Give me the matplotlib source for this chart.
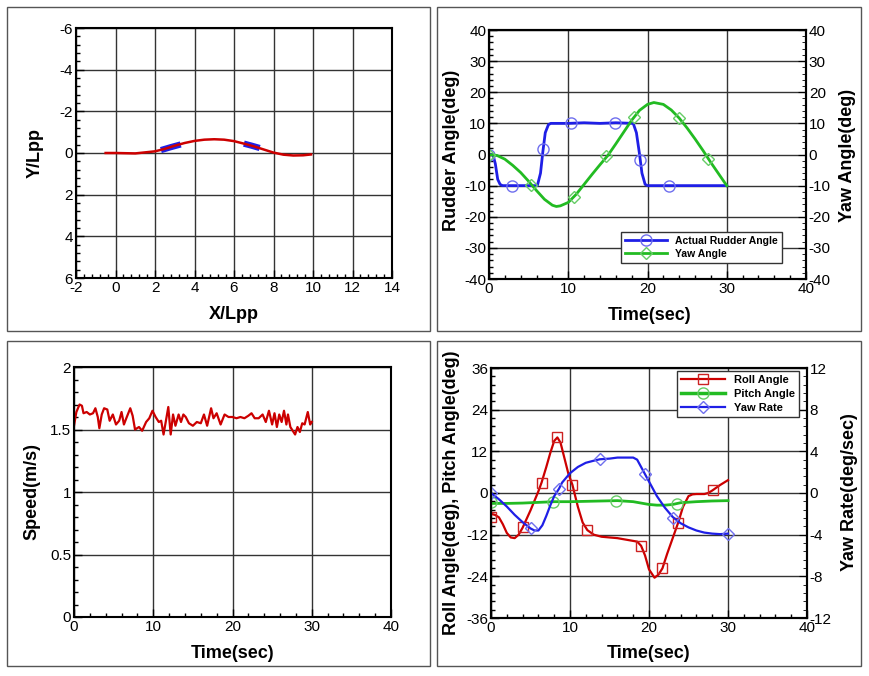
import matplotlib
matplotlib.use("Agg")
import matplotlib.pyplot as plt
from matplotlib.lines import Line2D
from matplotlib.patches import Rectangle
from matplotlib.ticker import MultipleLocator, AutoMinorLocator

plt.rcParams['font.family'] = ['Liberation Sans', 'DejaVu Sans']
plt.rcParams['axes.unicode_minus'] = False

# ---- trajectory (X/Lpp, Y/Lpp) ----
traj_x = [-0.5, 0, 1, 2, 2.5, 3, 3.5, 4, 4.5, 5, 5.5, 6, 6.5, 7, 7.5, 8, 8.5, 9, 9.5, 9.9]
traj_y = [0, 0, 0.02, -0.08, -0.2, -0.35, -0.48, -0.58, -0.64, -0.66, -0.64, -0.57,
          -0.45, -0.32, -0.17, -0.02, 0.08, 0.12, 0.11, 0.07]
ship1_x = [2.3, 2.8, 3.3]
ship1_y = [-0.14, -0.28, -0.41]
ship2_x = [6.5, 6.9, 7.3]
ship2_y = [-0.45, -0.35, -0.24]

# ---- rudder / yaw angle ----
rud_t = [0, 0.5, 0.8, 1.1, 1.4, 1.7, 3, 6.1, 6.5, 6.8, 7.1, 7.5, 7.8, 10, 12, 14, 16,
         18.2, 18.6, 19.0, 19.3, 19.7, 20, 22, 25, 30]
rud_v = [0, 0, -3, -8, -9.6, -10, -10, -10, -6, 1, 7, 9.6, 10, 10, 10.2, 10, 10.2,
         10, 7, 0, -6, -9.6, -10, -10, -10, -10]
rud_mk_t = [0, 2.9, 6.8, 10.4, 15.9, 19.1, 22.7]
rud_mk_v = [0, -10, 1.7, 10, 10, -1.9, -10]

yaw_t = [0, 1, 2, 3, 4, 5, 6, 7, 8, 8.5, 9, 10, 11, 12, 13, 14, 15, 16, 17, 18, 19, 20,
         20.8, 22, 23, 24, 25, 26, 27, 28, 29, 30]
yaw_v = [0, -0.3, -1.5, -3.5, -5.8, -8.6, -11.6, -14.4, -16.3, -16.7, -16.5, -15.4,
         -12.8, -9.6, -6.4, -3.3, -0.3, 3.4, 7.2, 11, 14.2, 16.1, 16.7, 16.1, 14.3,
         11.7, 8.5, 5, 1.3, -2.6, -6.3, -10]
yaw_mk_t = [0, 5.3, 10.7, 14.8, 18.3, 24, 27.6]
yaw_mk_v = [0, -9.7, -13.5, -0.6, 12.2, 11.7, -1.3]

# ---- speed ----
spd_t = [0, 0.3, 0.7, 1.0, 1.2, 1.6, 2.0, 2.4, 2.7, 3.0, 3.2, 3.5, 3.8, 4.2, 4.5, 4.9,
         5.3, 5.7, 6.0, 6.3, 6.6, 7.1, 7.4, 7.7, 8.2, 8.6, 9.1, 9.5, 9.9, 10.3, 10.7,
         11.0, 11.3, 11.6, 11.9, 12.2, 12.5, 12.8, 13.2, 13.5, 13.8, 14.1, 14.5, 15.0,
         15.5, 16.0, 16.4, 16.8, 17.3, 17.6, 18.0, 18.5, 19.0, 19.5, 20.0, 20.5, 21.0,
         21.5, 22.0, 22.4, 22.8, 23.3, 23.8, 24.2, 24.6, 25.0, 25.3, 25.6, 25.9, 26.2,
         26.5, 26.8, 27.0, 27.3, 27.6, 27.9, 28.2, 28.5, 28.8, 29.1, 29.5, 29.8, 30.0]
spd_v = [1.53, 1.64, 1.70, 1.69, 1.63, 1.64, 1.62, 1.63, 1.67, 1.60, 1.51, 1.62, 1.67,
         1.66, 1.57, 1.62, 1.54, 1.57, 1.64, 1.54, 1.59, 1.67, 1.61, 1.50, 1.52, 1.49,
         1.56, 1.59, 1.65, 1.60, 1.56, 1.57, 1.46, 1.57, 1.68, 1.46, 1.62, 1.53, 1.62,
         1.56, 1.62, 1.60, 1.55, 1.53, 1.56, 1.55, 1.62, 1.53, 1.67, 1.59, 1.63, 1.54,
         1.62, 1.60, 1.60, 1.59, 1.60, 1.59, 1.61, 1.63, 1.59, 1.59, 1.62, 1.56, 1.65,
         1.54, 1.63, 1.52, 1.62, 1.56, 1.65, 1.54, 1.62, 1.52, 1.49, 1.46, 1.52, 1.48,
         1.55, 1.54, 1.64, 1.54, 1.56]

# ---- roll / pitch / yaw rate ----
roll_t = [0, 0.5, 1, 1.5, 2, 2.5, 3, 3.5, 4, 5, 6, 6.4, 7, 7.5, 8, 8.4, 8.8, 9.3, 9.8,
          10.3, 11, 11.6, 12.2, 13, 14, 15, 16, 17, 18, 18.5, 19, 19.5, 20, 20.7, 21.2,
          21.7, 22.3, 23, 23.7, 24.3, 25, 25.5, 26, 27, 27.5, 28, 28.5, 29, 29.5, 30]
roll_v = [-6, -6.3, -7, -9, -11.5, -12.8, -13, -12, -10, -5, 0.5, 3, 7.5, 11.5, 15, 16,
          14.5, 10, 5.5, 2.4, -4, -8.5, -10.7, -12, -12.6, -12.8, -13, -13.4, -13.8,
          -14, -15.2, -18, -22, -24.4, -23.5, -21.7, -17.5, -13, -8.5, -4, -0.9, -0.4,
          -0.3, -0.3, 0, 0.7, 1.5, 2.3, 3, 3.7]
roll_mk_t = [0, 4, 6.4, 8.4, 10.3, 12.2, 19, 21.7, 23.7, 28.1]
roll_mk_v = [-6.8, -9.9, 3.0, 16, 2.4, -10.7, -15.2, -21.7, -8.5, 0.8]

pitch_t = [0, 2, 4, 6, 8, 10, 12, 14, 16, 18, 19, 20, 21, 22, 23, 24, 26, 28, 30]
pitch_v = [-3.0, -3.0, -2.9, -2.7, -2.5, -2.5, -2.4, -2.3, -2.2, -2.5, -2.9, -3.3,
           -3.5, -3.5, -3.3, -2.8, -2.5, -2.3, -2.2]
pitch_mk_t = [0, 7.9, 15.8, 23.6]
pitch_mk_v = [-2.5, -2.5, -2.2, -3.1]

yr_t = [0, 1, 2, 3, 4, 5, 5.5, 6, 6.5, 7, 7.5, 8, 8.6, 9, 10, 11, 12, 13, 13.8, 15, 16,
        17, 18, 18.5, 19, 19.5, 20, 21, 22, 23, 24, 25, 26, 27, 28, 29, 30]
yr_v = [0, -0.6, -1.3, -2.1, -2.8, -3.4, -3.6, -3.6, -3.1, -2.2, -1.2, -0.3, 0.4, 1.0,
        1.9, 2.5, 2.9, 3.1, 3.24, 3.3, 3.4, 3.4, 3.4, 3.2, 2.5, 1.8, 1.1, -0.3, -1.4,
        -2.3, -2.9, -3.3, -3.6, -3.8, -3.9, -3.95, -3.9]
yr_mk_t = [0, 5.05, 8.6, 13.8, 19.5, 23.1, 30]
yr_mk_v = [0, -3.4, 0.4, 3.24, 1.8, -2.4, -3.9]

RED = '#cc0000'
BLUE = '#1f1fe6'
GREEN = '#22bb22'
BLUE_MK = '#6f6fee'
GREEN_MK = '#66cc66'
RED_MK = '#cc2222'
GRID = '#333333'

W, H = 869, 676
fig = plt.figure(figsize=(W / 100, H / 100), dpi=100)


def px_axes(left, top, right, bottom):
    return fig.add_axes([left / W, 1 - bottom / H, (right - left) / W, (bottom - top) / H])


def style(ax, right_ticks=False):
    for s in ax.spines.values():
        s.set_linewidth(1.5)
    ax.tick_params(which='both', direction='in', labelsize=11, top=False,
                   right=right_ticks, pad=2)
    ax.tick_params(which='major', length=6, width=1)
    ax.tick_params(which='minor', length=3, width=1)
    ax.xaxis.set_minor_locator(AutoMinorLocator(5))
    ax.yaxis.set_minor_locator(AutoMinorLocator(5))
    ax.grid(True, which='major', color=GRID, linewidth=1)
    ax.set_axisbelow(True)


def style_twin(ax):
    ax.tick_params(which='both', direction='in', labelsize=11, pad=2)
    ax.tick_params(which='major', length=6)
    ax.tick_params(which='minor', length=3)
    for s in ax.spines.values():
        s.set_linewidth(1.5)


def label_font():
    return dict(fontsize=13, fontweight='bold')


# panel frames
for (l, t, r, b) in [(7, 7, 430, 331), (437, 7, 861, 331), (7, 341, 430, 666), (437, 341, 861, 666)]:
    fig.patches.append(Rectangle((l / W, 1 - b / H), (r - l) / W, (b - t) / H,
                                 transform=fig.transFigure, fill=False,
                                 edgecolor='#555555', linewidth=1))

# ---- panel 1: trajectory ----
ax1 = px_axes(76, 28, 392, 278)
style(ax1)
ax1.plot(ship1_x, ship1_y, color=BLUE, linewidth=4.5, solid_capstyle='butt')
ax1.plot(ship2_x, ship2_y, color=BLUE, linewidth=4.5, solid_capstyle='butt')
ax1.plot(traj_x, traj_y, color=RED, linewidth=1.8)
ax1.set_xlim(-2, 14)
ax1.set_ylim(6, -6)
ax1.xaxis.set_major_locator(MultipleLocator(2))
ax1.yaxis.set_major_locator(MultipleLocator(2))
ax1.set_xlabel('X/Lpp', **label_font())
ax1.set_ylabel('Y/Lpp', **label_font())
ax1.xaxis.set_label_coords(0.5, -0.112)
ax1.yaxis.set_label_coords(-0.101, 0.5)

# ---- panel 2: rudder / yaw ----
ax2 = px_axes(489, 30, 806, 279)
style(ax2)
ax2r = ax2.twinx()
style_twin(ax2r)
ax2.plot(rud_t, rud_v, color=BLUE, linewidth=2)
ax2.plot(rud_mk_t, rud_mk_v, linestyle='none', marker='o', markersize=8,
         markerfacecolor='none', markeredgecolor=BLUE_MK, markeredgewidth=1)
ax2r.plot(yaw_t, yaw_v, color=GREEN, linewidth=2)
ax2r.plot(yaw_mk_t, yaw_mk_v, linestyle='none', marker='D', markersize=6,
          markerfacecolor='none', markeredgecolor=GREEN_MK, markeredgewidth=1)
for a in (ax2, ax2r):
    a.set_ylim(-40, 40)
    a.yaxis.set_major_locator(MultipleLocator(10))
    a.yaxis.set_minor_locator(AutoMinorLocator(5))
ax2.set_xlim(0, 40)
ax2.xaxis.set_major_locator(MultipleLocator(10))
ax2.set_xlabel('Time(sec)', **label_font())
ax2.set_ylabel('Rudder Angle(deg)', **label_font())
ax2r.set_ylabel('Yaw Angle(deg)', **label_font())
ax2.xaxis.set_label_coords(0.505, -0.112)
ax2.yaxis.set_label_coords(-0.091, 0.518)
ax2r.yaxis.set_label_coords(1.104, 0.498)
h2 = [Line2D([], [], color=BLUE, linewidth=2, marker='o', markersize=8,
             markerfacecolor='none', markeredgecolor=BLUE_MK),
      Line2D([], [], color=GREEN, linewidth=2, marker='D', markersize=6,
             markerfacecolor='none', markeredgecolor=GREEN_MK)]
leg2 = ax2r.legend(h2, ['Actual Rudder Angle', 'Yaw Angle'], loc='lower right',
                   bbox_to_anchor=(0.924, 0.064), fancybox=False, framealpha=1,
                   edgecolor='#333333', prop=dict(size=7.5, weight='bold'),
                   handlelength=4, borderpad=0.4, labelspacing=0.3, borderaxespad=0)
leg2.get_frame().set_linewidth(1)

# ---- panel 3: speed ----
ax3 = px_axes(74, 367, 391, 617)
style(ax3)
ax3.plot(spd_t, spd_v, color=RED, linewidth=1.6)
ax3.set_xlim(0, 40)
ax3.set_ylim(0, 2)
ax3.xaxis.set_major_locator(MultipleLocator(10))
ax3.yaxis.set_major_locator(MultipleLocator(0.5))
ax3.yaxis.set_major_formatter(plt.FuncFormatter(lambda v, p: f'{v:g}'))
ax3.set_xlabel('Time(sec)', **label_font())
ax3.set_ylabel('Speed(m/s)', **label_font())
ax3.xaxis.set_label_coords(0.5, -0.112)
ax3.yaxis.set_label_coords(-0.107, 0.5)

# ---- panel 4: roll / pitch / yaw rate ----
ax4 = px_axes(491, 368, 807, 618)
style(ax4)
ax4r = ax4.twinx()
style_twin(ax4r)
ax4.plot(roll_t, roll_v, color=RED, linewidth=1.6)
ax4.plot(roll_mk_t, roll_mk_v, linestyle='none', marker='s', markersize=7,
         markerfacecolor='none', markeredgecolor=RED_MK, markeredgewidth=1)
ax4.plot(pitch_t, pitch_v, color=GREEN, linewidth=2)
ax4.plot(pitch_mk_t, pitch_mk_v, linestyle='none', marker='o', markersize=8,
         markerfacecolor='none', markeredgecolor=GREEN_MK, markeredgewidth=1)
ax4r.plot(yr_t, yr_v, color=BLUE, linewidth=1.6)
ax4r.plot(yr_mk_t, yr_mk_v, linestyle='none', marker='D', markersize=6,
          markerfacecolor='none', markeredgecolor=BLUE_MK, markeredgewidth=1)
ax4.set_xlim(0, 40)
ax4.set_ylim(-36, 36)
ax4.xaxis.set_major_locator(MultipleLocator(10))
ax4.yaxis.set_major_locator(MultipleLocator(12))
ax4r.set_ylim(-12, 12)
ax4r.yaxis.set_major_locator(MultipleLocator(4))
ax4r.yaxis.set_minor_locator(AutoMinorLocator(5))
ax4.set_xlabel('Time(sec)', **label_font())
ax4.set_ylabel('Roll Angle(deg), Pitch Angle(deg)', **label_font())
ax4r.set_ylabel('Yaw Rate(deg/sec)', **label_font())
ax4.xaxis.set_label_coords(0.5, -0.108)
ax4.yaxis.set_label_coords(-0.098, 0.5)
ax4r.yaxis.set_label_coords(1.108, 0.504)
h4 = [Line2D([], [], color=RED, linewidth=1.6, marker='s', markersize=7,
             markerfacecolor='none', markeredgecolor=RED_MK),
      Line2D([], [], color=GREEN, linewidth=2.5, marker='o', markersize=8,
             markerfacecolor='none', markeredgecolor=GREEN_MK),
      Line2D([], [], color=BLUE, linewidth=1.6, marker='D', markersize=6,
             markerfacecolor='none', markeredgecolor=BLUE_MK)]
leg4 = ax4r.legend(h4, ['Roll Angle', 'Pitch Angle', 'Yaw Rate'], loc='upper right',
                   bbox_to_anchor=(0.975, 0.988), fancybox=False, framealpha=1,
                   edgecolor='#333333', prop=dict(size=8, weight='bold'),
                   handlelength=4, borderpad=0.35, labelspacing=0.35, borderaxespad=0)
leg4.get_frame().set_linewidth(1)

fig.savefig('out.png', dpi=100)
